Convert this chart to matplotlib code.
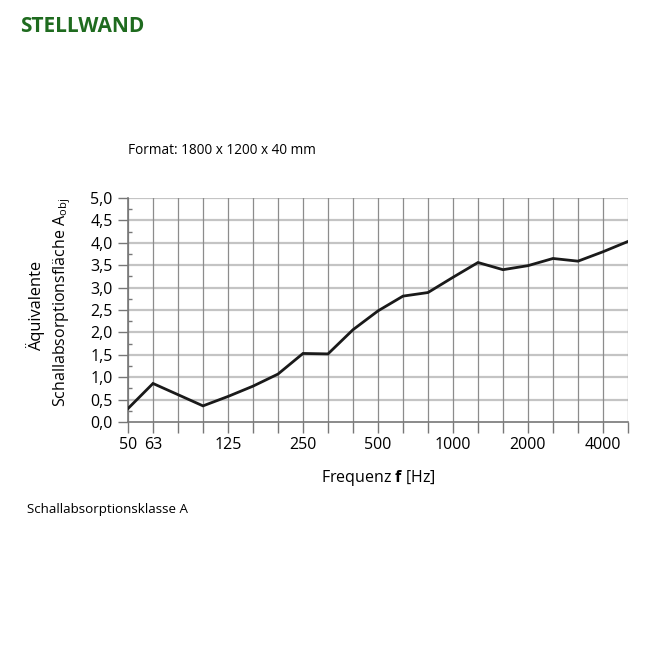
import matplotlib.pyplot as plt
from matplotlib.ticker import MultipleLocator

# third-octave bands 50 Hz .. 5000 Hz
freqs = [50, 63, 80, 100, 125, 160, 200, 250, 315, 400, 500, 630, 800,
         1000, 1250, 1600, 2000, 2500, 3150, 4000, 5000]
# equivalent absorption area A_obj
a_obj = [0.30, 0.86, 0.61, 0.36, 0.57, 0.80, 1.07, 1.53, 1.52, 2.06, 2.48,
         2.81, 2.89, 3.23, 3.56, 3.40, 3.49, 3.65, 3.59, 3.80, 4.03]
labelled = [50, 63, 125, 250, 500, 1000, 2000, 4000]
y_ticks = [0.0, 0.5, 1.0, 1.5, 2.0, 2.5, 3.0, 3.5, 4.0, 4.5, 5.0]

plt.rcParams['font.family'] = ['Open Sans', 'DejaVu Sans']
plt.rcParams['mathtext.fontset'] = 'custom'
plt.rcParams['mathtext.rm'] = 'Open Sans'
plt.rcParams['mathtext.bf'] = 'Open Sans:bold'

fig = plt.figure(figsize=(6.6, 6.6), dpi=100)
ax = fig.add_axes([128/660, 1-422/660, 500/660, 224/660])

x = list(range(len(freqs)))
ax.plot(x, a_obj, color='#1a1a1a', lw=2.0, solid_joinstyle='miter', zorder=5)

ax.set_xlim(0, len(freqs)-1)
ax.set_ylim(0, 5)

# grid
for xi in x:
    ax.axvline(xi, color='#8c8c8c', lw=0.9, zorder=1)
for yv in y_ticks[1:]:
    ax.axhline(yv, color='#c4c4c4', lw=1.6, zorder=0)

ax.set_xticks(x)
ax.set_xticklabels([str(f) if f in labelled else '' for f in freqs])
ax.set_yticks(y_ticks)
ax.set_yticklabels([f"{v:.1f}".replace('.', ',') for v in y_ticks])
ax.yaxis.set_minor_locator(MultipleLocator(0.25))

ax.tick_params(axis='x', direction='out', length=8, width=1, color='#777777',
               labelsize=11.5, pad=3)
ax.tick_params(axis='y', which='major', direction='out', length=7, width=1,
               color='#777777', labelsize=11.5, pad=4)
ax.tick_params(axis='y', which='minor', direction='in', length=3, width=1,
               color='#777777')

for s in ['top', 'right']:
    ax.spines[s].set_visible(False)
ax.spines['left'].set_color('#777777')
ax.spines['bottom'].set_color('#777777')
ax.spines['left'].set_linewidth(1.2)
ax.spines['bottom'].set_linewidth(1.2)

# labels
fig.text(36/660, 1-306/660, 'Äquivalente', rotation=90, ha='center',
         va='center', fontsize=11.8)
fig.text(62/660, 1-302/660, r'Schallabsorptionsfläche A$_{\mathrm{obj}}$',
         rotation=90, ha='center', va='center', fontsize=11.5)
fig.text(378/660, 1-478/660, r'Frequenz $\mathbf{f}$ [Hz]', ha='center',
         va='center', fontsize=11.5)

fig.text(20/660, 1-27/660, 'STELLWAND', color='#1f6b1f', fontsize=15,
         fontweight='bold', ha='left', va='center')
fig.text(128/660, 1-151/660, 'Format: 1800 x 1200 x 40 mm', fontsize=9.8,
         ha='left', va='center')
fig.text(27/660, 1-509/660, 'Schallabsorptionsklasse A', fontsize=9.6,
         ha='left', va='center')

fig.savefig('out.png', dpi=100)
